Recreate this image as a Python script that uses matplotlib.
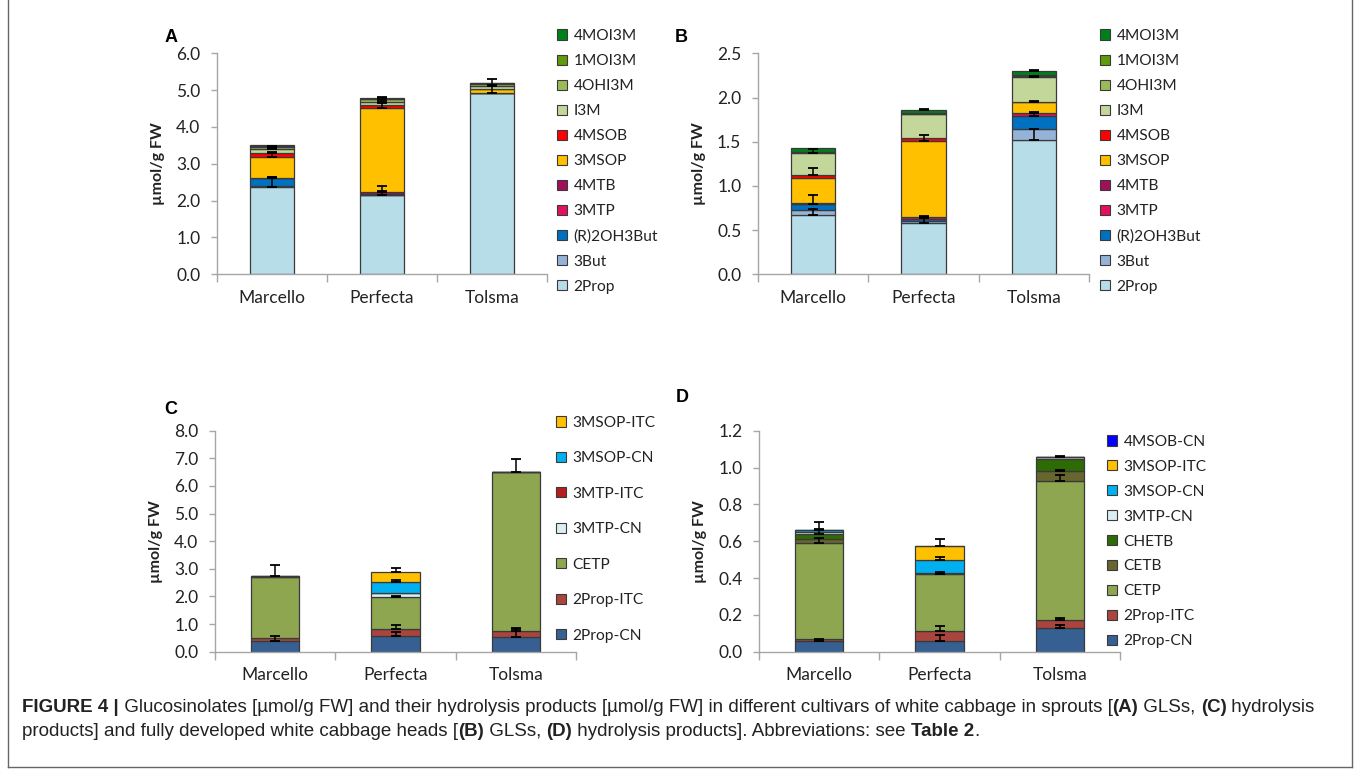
import matplotlib
matplotlib.use('Agg')
import matplotlib.pyplot as plt
import numpy as np
from matplotlib.patches import Patch
from matplotlib.lines import Line2D
from matplotlib.text import Annotation

plt.rcParams['font.family'] = ['Lato', 'DejaVu Sans']

cultivars = ['Marcello', 'Perfecta', 'Tolsma']

# glucosinolates (A sprouts, B heads), bottom to top
gls_names = ['2Prop', '3But', '(R)2OH3But', '3MTP', '4MTB', '3MSOP', '4MSOB',
             'I3M', '4OHI3M', '1MOI3M', '4MOI3M']
gls_colors = ['#b7dde8', '#95b3d7', '#0070c0', '#e0115f', '#a0105a', '#ffc000',
              '#ff0000', '#c4d79b', '#9bbb59', '#5f9b0a', '#00801a']
# rows = compounds, cols = Marcello, Perfecta, Tolsma
a_vals = [[2.36, 2.14, 4.93], [0.04, 0.02, 0.0], [0.21, 0.0, 0.0], [0.0, 0.02, 0.0],
          [0.01, 0.05, 0.0], [0.57, 2.29, 0.09], [0.11, 0.07, 0.0], [0.09, 0.09, 0.08],
          [0.06, 0.07, 0.06], [0.04, 0.02, 0.03], [0.01, 0.01, 0.01]]
a_err = [[0.28, 0.26, 0.37], [0, 0, 0], [0.03, 0, 0], [0, 0, 0], [0, 0.02, 0],
         [0.1, 0.13, 0.0], [0.03, 0.0, 0], [0.03, 0.05, 0.04], [0.02, 0.0, 0.0],
         [0, 0, 0], [0.0, 0.03, 0.0]]
b_vals = [[0.67, 0.585, 1.52], [0.06, 0.015, 0.12], [0.06, 0.025, 0.155], [0.01, 0.02, 0.025],
          [0.005, 0.005, 0.01], [0.29, 0.86, 0.115], [0.03, 0.035, 0.005], [0.25, 0.265, 0.285],
          [0.005, 0.005, 0.005], [0.005, 0.005, 0.01], [0.04, 0.035, 0.055]]
b_err = [[0.07, 0.05, 0.12], [0, 0, 0], [0.11, 0, 0.03], [0, 0, 0], [0, 0.01, 0.01],
         [0, 0.07, 0.01], [0.08, 0, 0], [0.04, 0, 0.01], [0, 0, 0], [0, 0, 0],
         [0.0, 0.02, 0.005]]

# hydrolysis products, sprouts (C)
c_names = ['2Prop-CN', '2Prop-ITC', 'CETP', '3MTP-CN', '3MTP-ITC', '3MSOP-CN', '3MSOP-ITC']
c_colors = ['#376092', '#a9443f', '#8da64f', '#daeef3', '#b81d1d', '#00b0f0', '#ffc000']
c_vals = [[0.37, 0.58, 0.54], [0.12, 0.25, 0.22], [2.22, 1.15, 5.73], [0.01, 0.13, 0.0],
          [0.03, 0.02, 0.0], [0.0, 0.40, 0.0], [0.0, 0.34, 0.0]]
c_err = [[0.2, 0.15, 0.27], [0.0, 0.12, 0.1], [0.0, 0.05, 0.47], [0, 0, 0],
         [0.4, 0, 0], [0, 0.07, 0], [0, 0.17, 0]]

# hydrolysis products, heads (D)
d_names = ['2Prop-CN', '2Prop-ITC', 'CETP', 'CETB', 'CHETB', '3MTP-CN', '3MSOP-CN',
           '3MSOP-ITC', '4MSOB-CN']
d_colors = ['#376092', '#a9443f', '#8da64f', '#67662f', '#2f6b05', '#daeef3', '#00b0f0',
            '#ffc000', '#0000ff']
d_vals = [[0.06, 0.056, 0.13], [0.007, 0.054, 0.044], [0.521, 0.31, 0.753],
          [0.022, 0.005, 0.054], [0.029, 0.0, 0.063], [0.011, 0.003, 0.013],
          [0.01, 0.07, 0.0], [0.0, 0.074, 0.0], [0.0, 0.0, 0.0]]
d_err = [[0.01, 0.035, 0.017], [0, 0.03, 0.01], [0.03, 0.015, 0.035], [0, 0, 0.005],
         [0.025, 0, 0], [0, 0, 0.003], [0.045, 0.015, 0], [0, 0.04, 0], [0, 0, 0]]

fig = plt.figure(figsize=(13.6, 7.77), dpi=100)
EDGE = '#3a3a3a'
AXC = '#a6a6a6'


def panel(rect, names, vals, errs, cols, ymax, step, letter, letter_xy,
          leg_xy, leg_space):
    ax = fig.add_axes(rect)
    x = np.arange(len(cultivars))
    bottom = np.zeros(len(cultivars))
    handles = []
    tops = []
    for name, v, c in zip(names, vals, cols):
        v = np.array(v, dtype=float)
        ax.bar(x, v, 0.4, bottom=bottom, color=c, edgecolor=EDGE, linewidth=0.9, zorder=2)
        bottom = bottom + v
        tops.append(bottom.copy())
        handles.append(Patch(facecolor=c, edgecolor=EDGE, linewidth=0.8, label=name))
    for top, e in zip(tops, errs):
        e = np.array(e, dtype=float)
        m = e > 0
        if m.any():
            ax.errorbar(x[m], top[m], yerr=[np.zeros(m.sum()), e[m]], fmt='none',
                        ecolor='black', elinewidth=1.1, capsize=3.5, capthick=1.3, zorder=5)
    ax.set_xlim(-0.5, len(cultivars) - 0.5)
    ax.set_ylim(0, ymax)
    ax.set_yticks(np.arange(0, ymax + step / 2, step))
    ax.set_yticklabels(['%.1f' % t for t in np.arange(0, ymax + step / 2, step)])
    ax.set_xticks(x)
    ax.set_xticklabels(cultivars)
    ax.set_xticks(np.arange(-0.5, len(cultivars)), minor=True)
    ax.tick_params(axis='x', which='major', length=0, pad=11, labelsize=12.5, labelcolor='#222222')
    ax.tick_params(axis='x', which='minor', length=6, color=AXC, width=1)
    ax.tick_params(axis='y', length=4, color=AXC, width=1, pad=8, labelsize=12.5,
                   labelcolor='#222222')
    for s in ['top', 'right']:
        ax.spines[s].set_visible(False)
    for s in ['left', 'bottom']:
        ax.spines[s].set_color(AXC)
        ax.spines[s].set_linewidth(1)
    ax.set_ylabel('µmol/g FW', fontsize=11.5, fontweight='bold', color='#222222')
    ax.yaxis.set_label_coords(-52 / (rect[2] * 1360), 0.5)
    fig.text(letter_xy[0] / 1360, 1 - letter_xy[1] / 777, letter, fontsize=13,
             fontweight='bold', ha='center', va='center', family='Liberation Sans')
    fig.legend(handles=handles[::-1], loc='upper left',
               bbox_to_anchor=(leg_xy[0] / 1360, 1 - leg_xy[1] / 777),
               frameon=False, fontsize=11.2, handlelength=0.62, handleheight=0.62,
               handletextpad=0.45, labelspacing=leg_space, borderpad=0, borderaxespad=0,
               labelcolor='#222222')
    return ax


panel([217 / 1360, 1 - 274.3 / 777, 330 / 1360, 221 / 777], gls_names, a_vals, a_err,
      gls_colors, 6.0, 1.0, 'A', (171, 37), (557, 29), 0.71)
panel([758 / 1360, 1 - 274.3 / 777, 331 / 1360, 221 / 777], gls_names, b_vals, b_err,
      gls_colors, 2.5, 0.5, 'B', (681, 38), (1100, 29), 0.71)
panel([215 / 1360, 1 - 651.7 / 777, 361 / 1360, 221 / 777], c_names, c_vals, c_err,
      c_colors, 8.0, 1.0, 'C', (171, 410), (556, 416), 1.38)
panel([759 / 1360, 1 - 651.7 / 777, 361 / 1360, 221 / 777], d_names, d_vals, d_err,
      d_colors, 1.2, 0.2, 'D', (682, 397), (1107, 435), 0.70)


def caption_line(x, y, parts, size=13.5):
    prev = None
    for s, bold in parts:
        w = 'bold' if bold else 'normal'
        if prev is None:
            prev = fig.text(x / 1360, 1 - y / 777, s, fontsize=size, fontweight=w,
                            family='Liberation Sans', va='bottom', ha='left', color='#222222')
        else:
            a = Annotation(s, xy=(1, 0), xycoords=prev, va='bottom', ha='left',
                           fontsize=size, fontweight=w, family='Liberation Sans',
                           color='#222222')
            fig.add_artist(a)
            prev = a


caption_line(22, 716, [('FIGURE 4 |', True),
                       (' Glucosinolates [µmol/g FW] and their hydrolysis products [µmol/g FW] '
                        'in different cultivars of white cabbage in sprouts [', False),
                       ('(A)', True), (' GLSs, ', False), ('(C)', True), (' hydrolysis', False)])
caption_line(22, 740, [('products] and fully developed white cabbage heads [', False),
                       ('(B)', True), (' GLSs, ', False), ('(D)', True),
                       (' hydrolysis products]. Abbreviations: see ', False),
                       ('Table 2', True), ('.', False)])

# frame around figure
for xs, ys in [([8, 8], [0, 767]), ([1352, 1352], [0, 767]), ([8, 1352], [767, 767])]:
    fig.add_artist(Line2D([v / 1360 for v in xs], [1 - v / 777 for v in ys],
                          color='#666666', linewidth=1))

fig.savefig('out.png', dpi=100)
